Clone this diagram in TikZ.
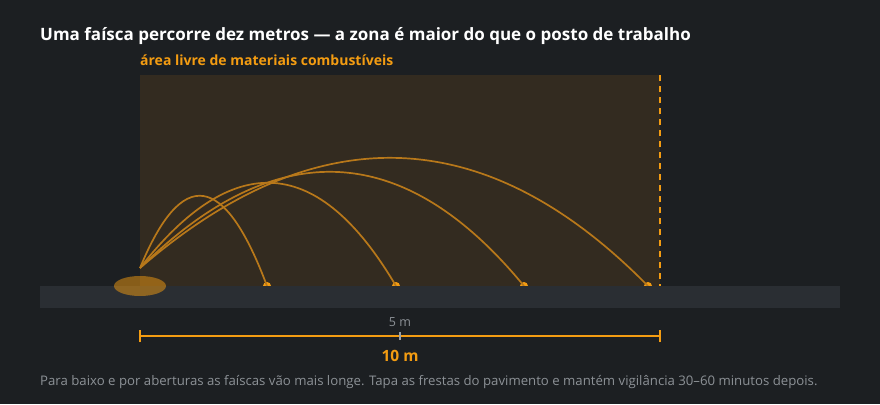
\documentclass[tikz,border=0pt]{standalone}
\usepackage{fontspec}
\usetikzlibrary{calc}
\setmainfont{Open Sans}
\definecolor{bg}{HTML}{1C1F22}
\definecolor{zone}{HTML}{332B20}
\definecolor{floorc}{HTML}{2A2E33}
\definecolor{orng}{HTML}{F39C12}
\definecolor{arcc}{HTML}{B8781A}
\definecolor{grayt}{HTML}{8C9196}
\definecolor{tickg}{HTML}{9AA0A6}
\tikzset{
  spark/.style={draw=arcc, line width=1.7pt},
  land/.style={circle, fill=orng, inner sep=0pt, minimum size=8pt},
  scaleline/.style={draw=orng, line width=1.6pt},
}
\newcommand{\quadarc}[2]{%
  \draw[spark] (src) .. controls ($(src)!2/3!(#1)$) and ($(#2)!2/3!(#1)$) .. (#2);}
\begin{document}
\begin{tikzpicture}[x=1pt,y=-1pt]
\fill[bg] (0,0) rectangle (880,404);
\useasboundingbox (0,0) rectangle (880,404);
% zone
\fill[zone] (140,75) rectangle (660,286);
\draw[orng, line width=1.8pt, dash pattern=on 6pt off 5pt] (660,75) -- (660,286);
% landing dots
\node[land] (l1) at (267,286) {};
\node[land] (l2) at (396,286) {};
\node[land] (l3) at (524,286) {};
\node[land] (l4) at (648,286) {};
\coordinate (src) at (140,268);
\coordinate (c1) at (203,115);
\coordinate (c2) at (280,89);
\coordinate (c3) at (344,67);
\coordinate (c4) at (405,39);
% arcs
\quadarc{c1}{l1.center}
\quadarc{c2}{l2.center}
\quadarc{c3}{l3.center}
\quadarc{c4}{l4.center}
% floor
\fill[floorc] (40,286) rectangle (840,308);
\fill[orng, opacity=0.5] (140,286) ellipse [x radius=26, y radius=10];
% texts
\node[anchor=base west, text=white, font=\bfseries\fontsize{17}{20}\selectfont, inner sep=0pt] (title) at (40,41) {Uma faísca percorre dez metros — a zona é maior do que o posto de trabalho};
\node[anchor=base west, text=orng, font=\bfseries\fontsize{14}{16}\selectfont, inner sep=0pt] (sub) at (140,65) {área livre de materiais combustíveis};
% scale
\coordinate (sa) at (140,336);
\coordinate (sb) at (660,336);
\coordinate (sm) at (400,336);
\draw[scaleline] (sa) -- (sb);
\draw[orng, line width=1.6pt] ([yshift=-6pt]sa) -- ([yshift=6pt]sa);
\draw[orng, line width=1.6pt] ([yshift=-6pt]sb) -- ([yshift=6pt]sb);
\draw[tickg, line width=1.4pt] ([yshift=-4pt]sm) -- ([yshift=4pt]sm);
\node[text=grayt, font=\fontsize{12.5}{14}\selectfont, inner sep=0pt] (five) at (400,322) {5 m};
\node[text=orng, font=\bfseries\fontsize{15.5}{18}\selectfont, inner sep=0pt] (ten) at (400,356) {10 m};
\node[anchor=base west, text=grayt, font=\fontsize{13.2}{15}\selectfont, inner sep=0pt] (foot) at (40,385) {Para baixo e por aberturas as faíscas vão mais longe. Tapa as frestas do pavimento e mantém vigilância 30–60 minutos depois.};
\end{tikzpicture}
\end{document}
